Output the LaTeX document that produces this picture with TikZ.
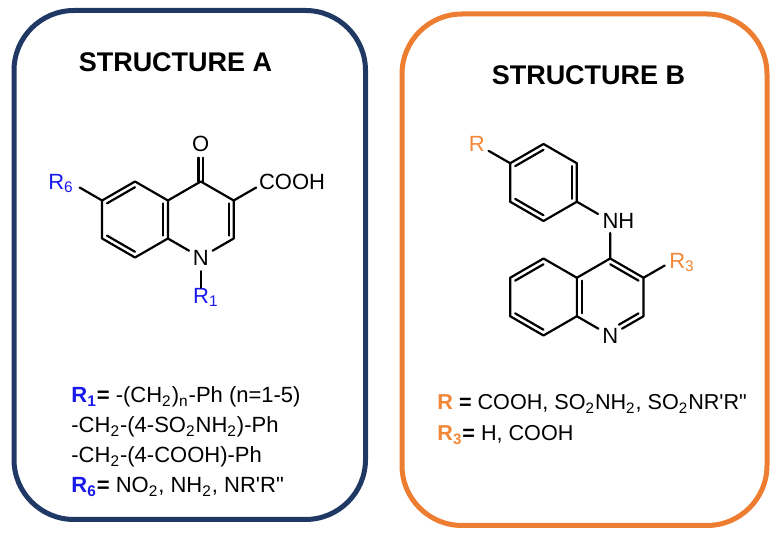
\documentclass[tikz,border=0pt]{standalone}
\usepackage{fontspec}
\setmainfont{Liberation Sans}
\usetikzlibrary{calc}
\definecolor{boxnavy}{RGB}{31,56,100}
\definecolor{boxorange}{RGB}{237,125,49}
\definecolor{rblue}{RGB}{25,25,235}
\definecolor{rorange}{RGB}{242,135,55}

\begin{document}
\begin{tikzpicture}[x=0.5pt,y=0.5pt,
        panel/.style = {line width=2.5pt, rounded corners=30pt},
        bond/.style = {line width=1.1pt, line cap=round, line join=round},
        atom/.style = {circle, inner sep=0.8pt, font=\fontsize{11}{13}\selectfont},
        lbl/.style = {inner sep=0pt, font=\fontsize{11}{13}\selectfont},
        heading/.style = {font=\fontsize{13.5}{16}\selectfont\bfseries},
        txt/.style = {anchor=base west, inner sep=0pt, font=\fontsize{11}{13}\selectfont},]
    \useasboundingbox (0,0) rectangle (778,536);

    % boxes
    \draw[panel, boxnavy] (14,16.5) rectangle (365.5,525.5);
    \draw[panel, boxorange] (402,10.5) rectangle (767,522);
    \node[heading] (headA) at (175.5,474) {STRUCTURE A};
    \node[heading] (headB) at (588.5,461) {STRUCTURE B};

    % structure A
    \coordinate (bA) at (135,316.5);
    \coordinate (pA) at (200.8,316.5);
    \foreach \n/\a in {a4a/30,a5/90,a6/150,a7/210,a8/270,a8a/330}
        \coordinate (\n) at ($(bA)+(\a:38)$);
    \foreach \n/\a in {a4/90,a3/30,a2/330}
        \coordinate (\n) at ($(pA)+(\a:38)$);
    \node[atom] (n1) at ($(pA)+(270:38)$) {N};
    \node[atom] (o4) at ($(a4)+(90:38)$) {O};
    \coordinate (ca) at ($(a3)+(30:38)$);
    \coordinate (r1a) at ($(n1)+(270:38)$);
    \coordinate (r6a) at ($(a6)+(150:38)$);
    \node[lbl, anchor=base west] (cooh) at ([shift={(-8,-8)}]ca) {COOH};
    \node[lbl, anchor=base west, text=rblue] (r1) at ([shift={(-8,-8)}]r1a) {R\textsubscript{1}};
    \node[lbl, anchor=base east, text=rblue] (r6) at ([shift={(5,-8)}]r6a) {R\textsubscript{6}};

    \draw[bond] (a4a) -- (a5) -- (a6) -- (a7) -- (a8) -- (a8a) -- cycle;
    \draw[bond] (a4a) -- (a4) -- (a3) -- (a2) -- (n1) -- (a8a);
    \foreach \a/\b in {a5/a6,a7/a8,a4a/a8a}
        \draw[bond] ($(\a)!.15!(bA)$) -- ($(\b)!.15!(bA)$);
    \draw[bond] ($(a3)!.15!(pA)$) -- ($(a2)!.15!(pA)$);
    \draw[bond] ([xshift=-1.2pt]a4) -- ([xshift=-1.2pt]o4.south);
    \draw[bond] ([xshift=1.2pt]a4) -- ([xshift=1.2pt]o4.south);
    \draw[bond, shorten >=6pt] (a3) -- (ca);
    \draw[bond, shorten >=4pt] (n1) -- (r1a);
    \draw[bond, shorten >=6pt] (a6) -- (r6a);

    \node[txt] (lineA1) at (71,133) {\textbf{\color{rblue}R\textsubscript{1}}\textbf{=} -(CH\textsubscript{2})\textsubscript{n}-Ph (n=1-5)};
    \node[txt] (lineA2) at (71,103) {-CH\textsubscript{2}-(4-SO\textsubscript{2}NH\textsubscript{2})-Ph};
    \node[txt] (lineA3) at (71,73) {-CH\textsubscript{2}-(4-COOH)-Ph};
    \node[txt] (lineA4) at (71,43) {\textbf{\color{rblue}R\textsubscript{6}}\textbf{=} NO\textsubscript{2}, NH\textsubscript{2}, NR\textquotesingle R\textquotedbl};

    % structure B
    \coordinate (pB) at (543.5,353.5);
    \coordinate (qB) at (543.5,239);
    \coordinate (pyB) at (610.2,239);
    \foreach \n/\a in {b1/150,b2/90,b3/30,b4/330,b5/270,b6/210}
        \coordinate (\n) at ($(pB)+(\a:38.5)$);
    \foreach \n/\a in {q4/90,q3/30,q2/330,q8a/210,q4a/150}
        \coordinate (\n) at ($(pyB)+(\a:38.5)$);
    \foreach \n/\a in {q5/90,q6/150,q7/210,q8/270}
        \coordinate (\n) at ($(qB)+(\a:38.5)$);
    \node[atom] (qn) at ($(pyB)+(270:38.5)$) {N};
    \node[atom, text=rorange] (rB) at ($(b1)+(150:38.5)$) {R};
    \coordinate (nha) at ($(b4)+(330:38.5)$);
    \coordinate (r3a) at ($(q3)+(30:38.5)$);
    \node[lbl, anchor=base west] (nh) at ([shift={(-8,-8)}]nha) {NH};
    \node[lbl, anchor=base west, text=rorange] (r3) at ([shift={(-8,-10)}]r3a) {R\textsubscript{3}};

    \draw[bond] (b1) -- (b2) -- (b3) -- (b4) -- (b5) -- (b6) -- cycle;
    \foreach \a/\b in {b1/b2,b3/b4,b5/b6}
        \draw[bond] ($(\a)!.15!(pB)$) -- ($(\b)!.15!(pB)$);
    \draw[bond] (rB) -- (b1);
    \draw[bond, shorten >=7pt] (b4) -- (nha);
    \draw[bond, shorten <=6pt] (nha) -- (q4);
    \draw[bond] (q4a) -- (q4) -- (q3) -- (q2) -- (qn) -- (q8a) -- (q4a);
    \draw[bond] (q4a) -- (q5) -- (q6) -- (q7) -- (q8) -- (q8a);
    \foreach \a/\b in {q5/q6,q7/q8}
        \draw[bond] ($(\a)!.15!(qB)$) -- ($(\b)!.15!(qB)$);
    \foreach \a/\b in {q4a/q8a,q4/q3}
        \draw[bond] ($(\a)!.15!(pyB)$) -- ($(\b)!.15!(pyB)$);
    \draw[bond, shorten >=5pt] ($(q2)!.15!(pyB)$) -- ($(qn)!.15!(pyB)$);
    \draw[bond, shorten >=7pt] (q3) -- (r3a);

    \node[txt, font=\fontsize{10.8}{13}\selectfont] (lineB1) at (437,126) {\textbf{\color{rorange}R} \textbf{=} COOH, SO\textsubscript{2}NH\textsubscript{2}, SO\textsubscript{2}NR\textquotesingle R\textquotedbl};
    \node[txt, font=\fontsize{10.8}{13}\selectfont] (lineB2) at (437,95) {\textbf{\color{rorange}R\textsubscript{3}}\textbf{=} H, COOH};
\end{tikzpicture}
\end{document}
